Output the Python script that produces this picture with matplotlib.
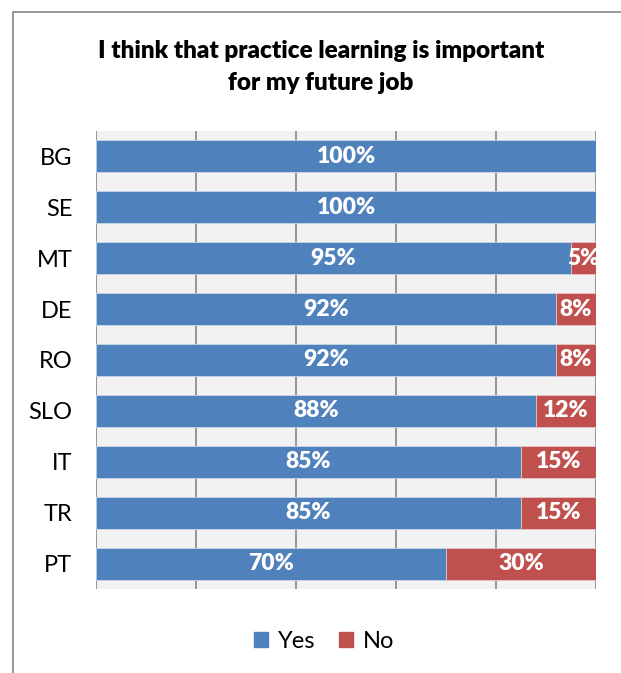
import matplotlib
matplotlib.use("Agg")
import matplotlib.pyplot as plt
from matplotlib.patches import Rectangle

countries = ["BG", "SE", "MT", "DE", "RO", "SLO", "IT", "TR", "PT"]
yes_vals = [100, 100, 95, 92, 92, 88, 85, 85, 70]
no_vals = [0, 0, 5, 8, 8, 12, 15, 15, 30]

blue = "#4F81BD"
red = "#C0504D"

plt.rcParams["font.family"] = ["Lato", "DejaVu Sans"]

fig = plt.figure(figsize=(6.21, 6.73), dpi=100)
ax = fig.add_axes([96 / 621, 1 - 589 / 673, 500 / 621, 458 / 673])

ypos = list(range(len(countries)))
ax.barh(ypos, yes_vals, height=0.63, color=blue, edgecolor="#c9d6ea", linewidth=0.6, zorder=3)
ax.barh(ypos, no_vals, left=yes_vals, height=0.63, color=red, edgecolor="#e6c4c3", linewidth=0.6, zorder=3)

for i in ypos:
    y = yes_vals[i]
    n = no_vals[i]
    ax.text(y / 2, i, f"{y}%", ha="center", va="center", color="white",
            fontsize=16.5, fontweight="heavy", zorder=4)
    if n > 0:
        ax.text(y + n / 2, i, f"{n}%", ha="center", va="center", color="white",
                fontsize=16.5, fontweight="heavy", zorder=4)

ax.set_xlim(0, 100)
ax.set_ylim(len(countries) - 0.5, -0.5)
ax.set_facecolor("#F2F2F2")
ax.set_xticks([0, 20, 40, 60, 80, 100])
ax.set_xticklabels([])
ax.tick_params(axis="x", length=0)
ax.grid(axis="x", color="#868686", linewidth=1.2, zorder=1)
ax.set_yticks(ypos)
ax.set_yticklabels(countries, fontsize=17)
ax.tick_params(axis="y", length=0, pad=17)
for s in ax.spines.values():
    s.set_visible(False)

# title
fig.text(321 / 621, 1 - 67 / 673, "I think that practice learning is important\nfor my future job",
         ha="center", va="center", fontsize=17.5, fontweight="heavy", linespacing=1.5)

# legend
handles = [Rectangle((0, 0), 1, 1, color=blue), Rectangle((0, 0), 1, 1, color=red)]
fig.legend(handles, ["Yes", "No"], loc="center", bbox_to_anchor=(324 / 621, 1 - 641 / 673),
           ncol=2, frameon=False, fontsize=17, handlelength=0.6, handleheight=0.6,
           handletextpad=0.4, columnspacing=1.0)

# chart border (cropped on right and bottom)
fig.add_artist(Rectangle((13 / 621, -0.1), 1.2, 1 - 12 / 673 + 0.1, transform=fig.transFigure,
                         fill=False, edgecolor="#868686", linewidth=1.2))

fig.savefig("out.png", dpi=100)
